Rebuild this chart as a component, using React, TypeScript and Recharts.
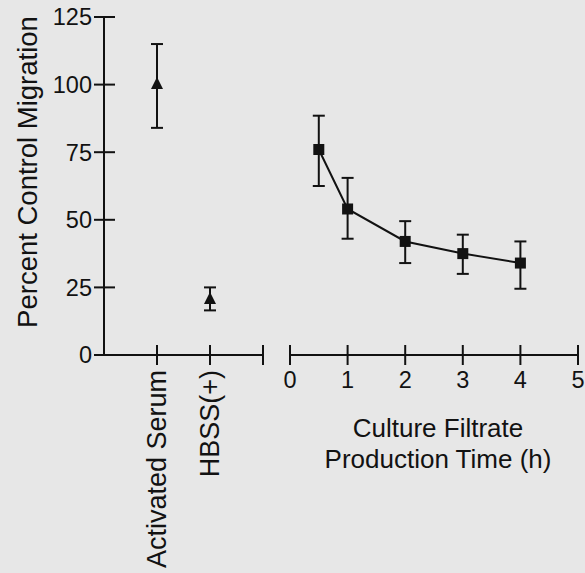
import React from 'react';
import { ComposedChart, Line, Scatter, XAxis, YAxis, ErrorBar } from 'recharts';

// left panel: controls
const controlNames = ['Activated Serum', 'HBSS(+)'];
const controlPos = [1, 2];
const controlMean = [100, 20.5];
const controlLow = [84, 16.5];
const controlHigh = [115, 25];

// right panel: culture filtrate time course
const hours = [0.5, 1, 2, 3, 4];
const filtrateMean = [76, 54, 42, 37.5, 34];
const filtrateLow = [62.5, 43, 34, 30, 24.5];
const filtrateHigh = [88.5, 65.5, 49.5, 44.5, 42];

const yTicks = [0, 25, 50, 75, 100, 125];
const hourTicks = [0, 1, 2, 3, 4, 5];
const controlTicks = [1, 2, 3];

const ink = '#121212';
const font = '"Liberation Sans", Arial, Helvetica, sans-serif';

const controlData = controlPos.map((p, i) => ({
  x: p,
  y: controlMean[i],
  err: [controlMean[i] - controlLow[i], controlHigh[i] - controlMean[i]],
}));

const filtrateData = hours.map((h, i) => ({
  t: h,
  v: filtrateMean[i],
  err: [filtrateMean[i] - filtrateLow[i], filtrateHigh[i] - filtrateMean[i]],
}));

const YTick = (props: any) => {
  const { x, y, payload } = props;
  return (
    <g>
      <line x1={x - 10} x2={x + 11} y1={y} y2={y} stroke={ink} strokeWidth={2} />
      <text x={x - 12} y={y} dy="0.36em" textAnchor="end" fontSize={23.5} fontFamily={font} fill={ink}>
        {payload.value}
      </text>
    </g>
  );
};

const ControlTick = (props: any) => {
  const { x, y, payload } = props;
  const idx = controlPos.indexOf(payload.value);
  const label = idx >= 0 ? controlNames[idx] : '';
  return (
    <g>
      <line x1={x} x2={x} y1={y - 10} y2={y + 10} stroke={ink} strokeWidth={2} />
      {label && (
        <text
          x={x}
          y={y + 15}
          transform={`rotate(-90 ${x} ${y + 15})`}
          textAnchor="end"
          dominantBaseline="central"
          fontSize={27}
          fontFamily={font}
          fill={ink}
        >
          {label}
        </text>
      )}
    </g>
  );
};

const HourTick = (props: any) => {
  const { x, y, payload } = props;
  return (
    <g>
      <line x1={x} x2={x} y1={y - 10} y2={y + 10} stroke={ink} strokeWidth={2} />
      <text x={x} y={y + 33} textAnchor="middle" fontSize={23.5} fontFamily={font} fill={ink}>
        {payload.value}
      </text>
    </g>
  );
};

const Triangle = (props: any) => {
  const { cx, cy } = props;
  return <polygon points={`${cx},${cy - 7.5} ${cx - 6},${cy + 4.5} ${cx + 6},${cy + 4.5}`} fill={ink} />;
};

const SquareDot = (props: any) => {
  const { cx, cy, index } = props;
  return <rect key={index} x={cx - 5.5} y={cy - 5.5} width={11} height={11} fill={ink} />;
};

export default function App() {
  return (
    <div style={{ position: 'absolute', left: 0, top: 0, width: 585, height: 573, background: '#e7e7e7', overflow: 'hidden' }}>
      <div style={{ position: 'absolute', left: 0, top: 0 }}>
        <ComposedChart width={585} height={573} data={controlData} margin={{ top: 17, right: 322, bottom: 188, left: 44 }}>
          <XAxis
            type="number"
            dataKey="x"
            domain={[0, 3]}
            ticks={controlTicks}
            height={30}
            tickSize={0}
            tickMargin={0}
            tickLine={false}
            axisLine={{ stroke: ink, strokeWidth: 2 }}
            tick={<ControlTick />}
            interval={0}
          />
          <YAxis
            type="number"
            domain={[0, 125]}
            ticks={yTicks}
            width={60}
            tickSize={0}
            tickMargin={0}
            tickLine={false}
            axisLine={{ stroke: ink, strokeWidth: 2 }}
            tick={<YTick />}
            interval={0}
          />
          <Scatter dataKey="y" fill={ink} shape={<Triangle />} isAnimationActive={false}>
            <ErrorBar dataKey="err" direction="y" width={6} stroke={ink} strokeWidth={2} />
          </Scatter>
        </ComposedChart>
      </div>
      <div style={{ position: 'absolute', left: 0, top: 0 }}>
        <ComposedChart width={585} height={573} data={filtrateData} margin={{ top: 17, right: 7, bottom: 188, left: 290 }}>
          <XAxis
            type="number"
            dataKey="t"
            domain={[0, 5]}
            ticks={hourTicks}
            height={30}
            tickSize={0}
            tickMargin={0}
            tickLine={false}
            axisLine={{ stroke: ink, strokeWidth: 2 }}
            tick={<HourTick />}
            interval={0}
          />
          <YAxis type="number" domain={[0, 125]} hide width={0} />
          <Line
            dataKey="v"
            stroke={ink}
            strokeWidth={2}
            dot={<SquareDot />}
            activeDot={false}
            isAnimationActive={false}
          >
            <ErrorBar dataKey="err" direction="y" width={6} stroke={ink} strokeWidth={2} />
          </Line>
        </ComposedChart>
      </div>
      <svg width={585} height={573} style={{ position: 'absolute', left: 0, top: 0, pointerEvents: 'none' }}>
        <text
          x={27}
          y={172}
          transform="rotate(-90 27 172)"
          textAnchor="middle"
          dominantBaseline="central"
          fontSize={27.5}
          fontFamily={font}
          fill={ink}
        >
          Percent Control Migration
        </text>
        <text x={438} y={437} textAnchor="middle" fontSize={26} fontFamily={font} fill={ink}>
          Culture Filtrate
        </text>
        <text x={438} y={468} textAnchor="middle" fontSize={26} fontFamily={font} fill={ink}>
          Production Time (h)
        </text>
      </svg>
    </div>
  );
}
